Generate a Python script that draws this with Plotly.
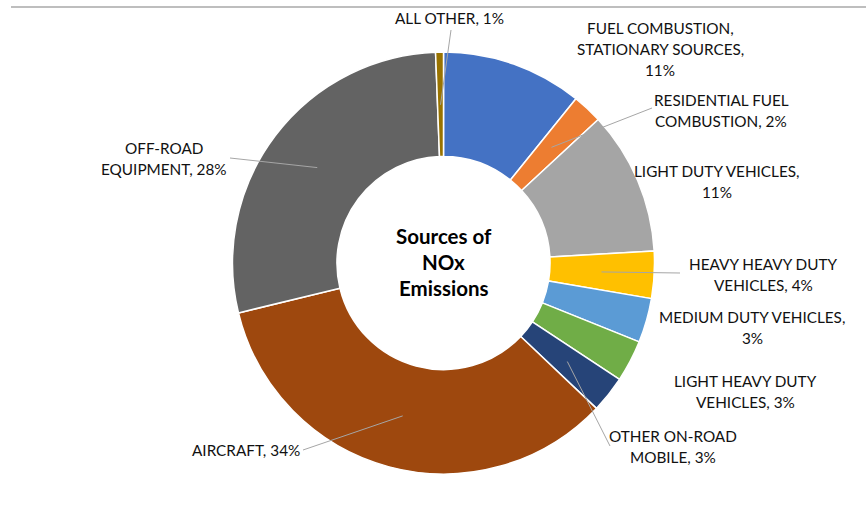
import math
import plotly.graph_objects as go

# Sources of NOx emissions (share of total, %), clockwise from 12 o'clock
categories = [
    "FUEL COMBUSTION, STATIONARY SOURCES",
    "RESIDENTIAL FUEL COMBUSTION",
    "LIGHT DUTY VEHICLES",
    "HEAVY HEAVY DUTY VEHICLES",
    "MEDIUM DUTY VEHICLES",
    "LIGHT HEAVY DUTY VEHICLES",
    "OTHER ON-ROAD MOBILE",
    "AIRCRAFT",
    "OFF-ROAD EQUIPMENT",
    "ALL OTHER",
]
shares = [10.8, 2.3, 11.0, 3.6, 3.4, 3.2, 2.8, 34.1, 28.2, 0.6]

# How each category name is wrapped in its label (name lines; percent appended)
label_lines = [
    ["FUEL COMBUSTION,", "STATIONARY SOURCES,", "{p}"],
    ["RESIDENTIAL FUEL", "COMBUSTION, {p}"],
    ["LIGHT DUTY VEHICLES,", "{p}"],
    ["HEAVY HEAVY DUTY", "VEHICLES, {p}"],
    ["MEDIUM DUTY VEHICLES,", "{p}"],
    ["LIGHT HEAVY DUTY", "VEHICLES, {p}"],
    ["OTHER ON-ROAD", "MOBILE, {p}"],
    ["AIRCRAFT, {p}"],
    ["OFF-ROAD", "EQUIPMENT, {p}"],
    ["ALL OTHER, {p}"],
]

colors = ["#4472C4", "#ED7D31", "#A5A5A5", "#FFC000", "#5B9BD5",
          "#70AD47", "#264478", "#9E480E", "#636363", "#997300"]

W, H = 867, 514
CX, CY, R = 443.5, 263, 211  # donut centre and outer radius in pixels


def px(x):
    return x / W


def py(y):
    return 1 - y / H


# Label block centres (pixels) and leader-line end points (None = no leader)
label_pos = [(660, 28), (721, 100), (717, 171), (763, 264), (752, 317),
             (745, 381), (673, 436), (246, 450), (164, 148), (449, 18)]
leader_end = [None, (652, 108), None, (680, 273), None,
              None, (610, 446), (303, 450), (230, 158), (451, 30)]
LINE_GAP = 21

fig = go.Figure()
fig.add_trace(go.Pie(
    labels=categories,
    values=shares,
    sort=False,
    direction="clockwise",
    rotation=0,
    hole=0.505,
    textinfo="none",
    hoverinfo="label+percent",
    marker=dict(colors=colors, line=dict(color="white", width=1.5)),
    domain=dict(x=[px(CX - R), px(CX + R)], y=[py(CY + R), py(CY - R)]),
    showlegend=False,
))

total = sum(shares)
annotations = []
shapes = [dict(type="line", xref="paper", yref="paper",
               x0=px(11), x1=px(866), y0=py(7), y1=py(7),
               line=dict(color="#BEBEBE", width=2))]

cum = 0.0
for i, v in enumerate(shares):
    pct = f"{round(v / total * 100)}%"
    mid = (cum + v / 2) / total * 2 * math.pi
    cum += v
    lx, ly = label_pos[i]
    for k, line in enumerate(label_lines[i]):
        annotations.append(dict(
            text=line.format(p=pct), xref="paper", yref="paper",
            x=px(lx), y=py(ly + k * LINE_GAP), xanchor="center", yanchor="middle",
            showarrow=False, font=dict(family="Lato", size=15.3, color="#111111"),
        ))
    if leader_end[i] is not None:
        sx = CX + 0.75 * R * math.sin(mid)
        sy = CY - 0.75 * R * math.cos(mid)
        ex, ey = leader_end[i]
        shapes.append(dict(type="line", xref="paper", yref="paper",
                           x0=px(sx), y0=py(sy), x1=px(ex), y1=py(ey),
                           line=dict(color="#A6A6A6", width=1)))

for k, line in enumerate(["Sources of", "NOx", "Emissions"]):
    annotations.append(dict(
        text=f"<b>{line}</b>", xref="paper", yref="paper",
        x=px(CX), y=py(236 + k * 26), xanchor="center", yanchor="middle",
        showarrow=False, font=dict(family="Lato", size=20.5, color="#000000"),
    ))

fig.update_layout(
    width=W, height=H,
    margin=dict(l=0, r=0, t=0, b=0),
    paper_bgcolor="white", plot_bgcolor="white",
    annotations=annotations, shapes=shapes,
)

fig.write_html("out.html")
